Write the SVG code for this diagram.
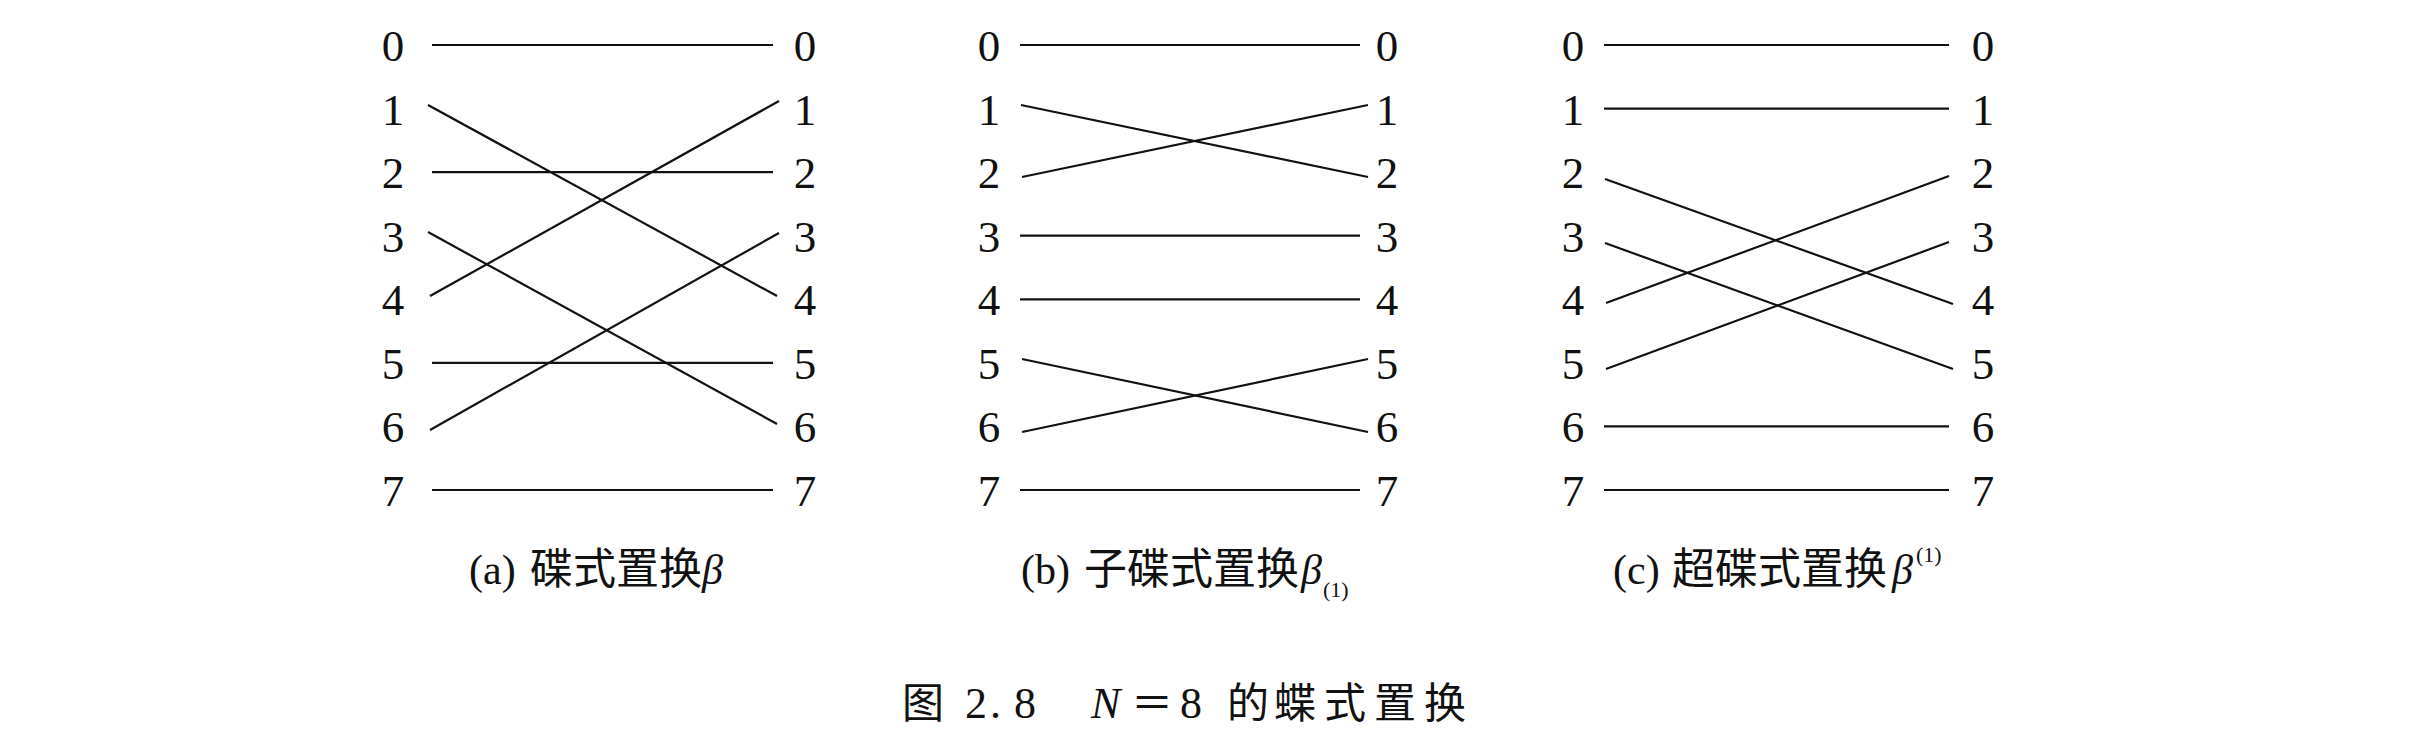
<svg xmlns="http://www.w3.org/2000/svg" width="2424" height="750" viewBox="0 0 2424 750">
<style>
.bg{fill:#ffffff}
.num{font-family:"Liberation Serif","Times New Roman","DejaVu Serif",serif;font-size:45px;fill:#111;text-anchor:middle}
.ln{stroke:#111;stroke-width:2.2;fill:none;stroke-linecap:butt}
.cap{font-family:"Liberation Serif","Times New Roman","DejaVu Serif",serif;font-size:42px;fill:#111}
.cjk{font-family:"Noto Sans CJK SC",sans-serif;font-size:43px;font-weight:400}
.it{font-style:italic;font-family:"Liberation Serif","Times New Roman","DejaVu Serif",serif}
.sm{font-family:"Liberation Serif","Times New Roman","DejaVu Serif",serif;font-size:22px}
.mc{font-family:"Noto Sans CJK SC",sans-serif;font-size:42px;fill:#111;font-weight:400}
.md{font-family:"Liberation Serif","Times New Roman","DejaVu Serif",serif;font-size:44px;fill:#111}
</style>
<rect class="bg" x="0" y="0" width="2424" height="750"/>

<g id="panel-a">
  <g id="a-left-labels" class="num">
    <text x="393" y="61">0</text><text x="393" y="124.6">1</text><text x="393" y="188.1">2</text><text x="393" y="251.7">3</text>
    <text x="393" y="315.3">4</text><text x="393" y="378.9">5</text><text x="393" y="442.4">6</text><text x="393" y="506">7</text>
  </g>
  <g id="a-right-labels" class="num">
    <text x="805" y="61">0</text><text x="805" y="124.6">1</text><text x="805" y="188.1">2</text><text x="805" y="251.7">3</text>
    <text x="805" y="315.3">4</text><text x="805" y="378.9">5</text><text x="805" y="442.4">6</text><text x="805" y="506">7</text>
  </g>
  <g id="a-connectors" class="ln">
    <line x1="432" y1="45" x2="773" y2="45"/>
    <line x1="432" y1="172.1" x2="773" y2="172.1"/>
    <line x1="432" y1="362.9" x2="773" y2="362.9"/>
    <line x1="432" y1="490" x2="773" y2="490"/>
    <line x1="428" y1="105" x2="777" y2="296"/>
    <line x1="430" y1="296" x2="779" y2="101"/>
    <line x1="428" y1="232" x2="777" y2="424"/>
    <line x1="430" y1="430" x2="779" y2="233"/>
  </g>
  <text id="a-caption" class="cap" y="584"><tspan x="469">(a)</tspan><tspan class="cjk" x="530">碟式置换</tspan><tspan class="it" x="702">β</tspan></text>
</g>

<g id="panel-b">
  <g id="b-left-labels" class="num">
    <text x="989" y="61">0</text><text x="989" y="124.6">1</text><text x="989" y="188.1">2</text><text x="989" y="251.7">3</text>
    <text x="989" y="315.3">4</text><text x="989" y="378.9">5</text><text x="989" y="442.4">6</text><text x="989" y="506">7</text>
  </g>
  <g id="b-right-labels" class="num">
    <text x="1387" y="61">0</text><text x="1387" y="124.6">1</text><text x="1387" y="188.1">2</text><text x="1387" y="251.7">3</text>
    <text x="1387" y="315.3">4</text><text x="1387" y="378.9">5</text><text x="1387" y="442.4">6</text><text x="1387" y="506">7</text>
  </g>
  <g id="b-connectors" class="ln">
    <line x1="1020" y1="45" x2="1360" y2="45"/>
    <line x1="1020" y1="235.7" x2="1360" y2="235.7"/>
    <line x1="1020" y1="299.3" x2="1360" y2="299.3"/>
    <line x1="1020" y1="490" x2="1360" y2="490"/>
    <line x1="1021" y1="105" x2="1368" y2="177"/>
    <line x1="1022" y1="177" x2="1368" y2="105"/>
    <line x1="1022" y1="359" x2="1368" y2="432"/>
    <line x1="1022" y1="432" x2="1368" y2="359"/>
  </g>
  <text id="b-caption" class="cap" y="584"><tspan x="1021">(b)</tspan><tspan class="cjk" x="1084">子碟式置换</tspan><tspan class="it" x="1301">β</tspan><tspan class="sm" x="1323" y="597">(1)</tspan></text>
</g>

<g id="panel-c">
  <g id="c-left-labels" class="num">
    <text x="1573" y="61">0</text><text x="1573" y="124.6">1</text><text x="1573" y="188.1">2</text><text x="1573" y="251.7">3</text>
    <text x="1573" y="315.3">4</text><text x="1573" y="378.9">5</text><text x="1573" y="442.4">6</text><text x="1573" y="506">7</text>
  </g>
  <g id="c-right-labels" class="num">
    <text x="1983" y="61">0</text><text x="1983" y="124.6">1</text><text x="1983" y="188.1">2</text><text x="1983" y="251.7">3</text>
    <text x="1983" y="315.3">4</text><text x="1983" y="378.9">5</text><text x="1983" y="442.4">6</text><text x="1983" y="506">7</text>
  </g>
  <g id="c-connectors" class="ln">
    <line x1="1604" y1="45" x2="1949" y2="45"/>
    <line x1="1604" y1="108.6" x2="1949" y2="108.6"/>
    <line x1="1604" y1="426.4" x2="1949" y2="426.4"/>
    <line x1="1604" y1="490" x2="1949" y2="490"/>
    <line x1="1605" y1="179" x2="1953" y2="304"/>
    <line x1="1605" y1="243" x2="1953" y2="369"/>
    <line x1="1606" y1="303" x2="1949" y2="176"/>
    <line x1="1606" y1="369" x2="1949" y2="242"/>
  </g>
  <text id="c-caption" class="cap" y="584"><tspan x="1613">(c)</tspan><tspan class="cjk" x="1672">超碟式置换</tspan><tspan class="it" x="1892">β</tspan><tspan class="sm" x="1916" y="562">(1)</tspan></text>
</g>

<g id="figure-caption">
  <text class="mc" x="902" y="718">图</text>
  <text class="md" x="965" y="718">2</text>
  <text class="md" x="990" y="718">.</text>
  <text class="md" x="1014" y="718">8</text>
  <text class="md it" x="1091" y="718">N</text>
  <text class="mc" x="1131" y="718">＝</text>
  <text class="md" x="1180" y="718">8</text>
  <text class="mc" x="1227" y="718">的</text>
  <text class="mc" x="1274" y="718">蝶</text>
  <text class="mc" x="1324" y="718">式</text>
  <text class="mc" x="1374" y="718">置</text>
  <text class="mc" x="1424" y="718">换</text>
</g>
</svg>
